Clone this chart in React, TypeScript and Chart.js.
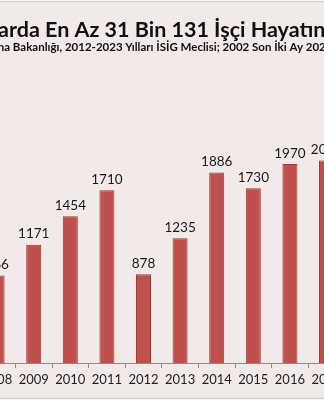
import React, { useEffect, useRef } from "react";
import { Chart, registerables } from "chart.js";

Chart.register(...registerables);

const titleText = "arda En Az 31 Bin 131 İşçi Hayatın";
const subtitleText = "na Bakanlığı, 2012-2023 Yılları İSİG Meclisi; 2002 Son İki Ay 202";
const years = ["2008", "2009", "2010", "2011", "2012", "2013", "2014", "2015", "2016", "2017"];
const deaths = [866, 1171, 1454, 1710, 878, 1235, 1886, 1730, 1970, 2006];

const BG = "#F2E9E9";
const BAR = "#C0504D";
const BAR_BORDER = "#9A3B39";

const backgroundPlugin = {
  id: "bgFrame",
  beforeDraw(chart: any) {
    const { ctx, width, height } = chart;
    ctx.save();
    ctx.fillStyle = "#ffffff";
    ctx.fillRect(0, 0, width, height);
    ctx.fillStyle = BG;
    ctx.fillRect(-2, 1.5, width + 4, height - 3);
    ctx.strokeStyle = "#D4D4D4";
    ctx.lineWidth = 1.5;
    ctx.strokeRect(-2, 1.5, width + 4, height - 3);
    ctx.restore();
  },
};

const valueLabelPlugin = {
  id: "valueLabels",
  afterDatasetsDraw(chart: any) {
    const { ctx } = chart;
    const meta = chart.getDatasetMeta(0);
    ctx.save();
    ctx.font = "13.5px Lato";
    ctx.fillStyle = "#1a1a1a";
    ctx.textAlign = "center";
    ctx.textBaseline = "bottom";
    meta.data.forEach((bar: any, i: number) => {
      ctx.fillText(String(chart.data.datasets[0].data[i]), bar.x, bar.y - 4);
    });
    ctx.restore();
  },
};

export default function App() {
  const ref = useRef<HTMLCanvasElement | null>(null);
  useEffect(() => {
    if (!ref.current) return;
    const chart = new Chart(ref.current, {
      type: "bar",
      data: {
        labels: years,
        datasets: [
          {
            data: deaths,
            backgroundColor: BAR,
            borderColor: BAR_BORDER,
            borderWidth: 1,
            barPercentage: 0.82,
            categoryPercentage: 0.5,
          },
        ],
      },
      options: {
        animation: false,
        responsive: false,
        maintainAspectRatio: false,
        layout: { padding: { left: 0.7, right: 1.2, top: 0, bottom: 1 } },
        plugins: {
          legend: { display: false },
          tooltip: { enabled: false },
          title: {
            display: true,
            text: titleText,
            color: "#111111",
            font: { family: "Lato", size: 21.5, weight: "bold", lineHeight: 1 },
            padding: { top: 19, bottom: 1 },
          },
          subtitle: {
            display: true,
            text: subtitleText,
            color: "#111111",
            font: { family: "Lato", size: 11.5, weight: "bold", lineHeight: 1 },
            padding: { top: 0, bottom: 57.5 },
          },
        },
        scales: {
          x: {
            grid: {
              display: true,
              drawOnChartArea: false,
              drawTicks: true,
              tickLength: 5,
              offset: true,
              color: "#8C8C8C",
            },
            border: { display: true, color: "#8C8C8C" },
            ticks: {
              color: "#1f1f1f",
              font: { family: "Lato", size: 13 },
              padding: 4,
              maxRotation: 0,
              autoSkip: false,
            },
            afterFit: (scale: any) => {
              scale.height = 36;
            },
          },
          y: {
            display: false,
            min: 0,
            max: 2500,
          },
        },
      },
      plugins: [backgroundPlugin, valueLabelPlugin],
    });
    return () => chart.destroy();
  }, []);
  return (
    <div style={{ position: "absolute", left: -22, top: 0, width: 368, height: 400, overflow: "hidden" }}>
      <canvas ref={ref} width={368} height={400} style={{ width: 368, height: 400, display: "block" }} />
    </div>
  );
}
